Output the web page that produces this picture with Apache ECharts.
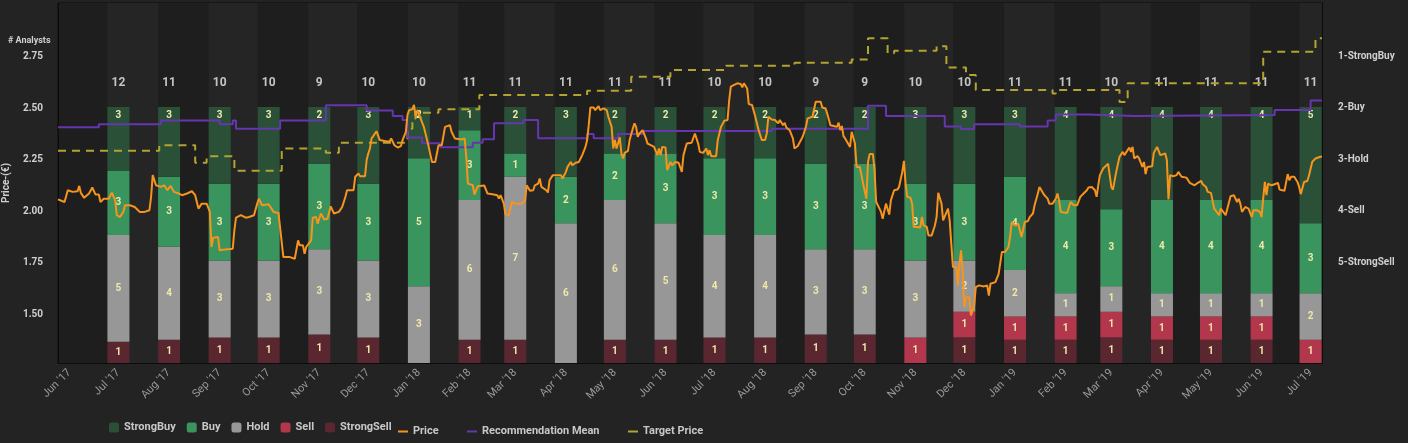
<!DOCTYPE html>
<html lang="en">
  <head>
    <meta charset="UTF-8" />
    <title>Analyst Recommendations</title>
    <style>
      * {
        padding: 0;
        margin: 0;
      }
      html,
      body {
        width: 100%;
        height: 100%;
        background: #232323;
      }
      #main {
        width: 1408px;
        height: 443px;
      }
    </style>
  </head>
  <body>
    <div id="main"></div>
    <script src="https://cdn.jsdelivr.net/npm/echarts@6/dist/echarts.min.js"></script>
    <script>
      // month ticks on the x axis
      var tickMonths = ['2017-06-01', '2017-07-01', '2017-08-01', '2017-09-01', '2017-10-01', '2017-11-01', '2017-12-01',
        '2018-01-01', '2018-02-01', '2018-03-01', '2018-04-01', '2018-05-01', '2018-06-01', '2018-07-01', '2018-08-01',
        '2018-09-01', '2018-10-01', '2018-11-01', '2018-12-01', '2019-01-01', '2019-02-01', '2019-03-01', '2019-04-01',
        '2019-05-01', '2019-06-01', '2019-07-01'];
      var tickLabels = ["Jun '17", "Jul '17", "Aug '17", "Sep '17", "Oct '17", "Nov '17", "Dec '17", "Jan '18", "Feb '18",
        "Mar '18", "Apr '18", "May '18", "Jun '18", "Jul '18", "Aug '18", "Sep '18", "Oct '18", "Nov '18", "Dec '18",
        "Jan '19", "Feb '19", "Mar '19", "Apr '19", "May '19", "Jun '19", "Jul '19"];
      var barMonths = tickMonths.slice(1);

      // analyst counts per month
      var strongBuy = [3, 3, 3, 3, 2, 3, 2, 1, 2, 3, 2, 2, 2, 2, 2, 2, 3, 3, 3, 4, 4, 4, 4, 4, 5];
      var buy = [3, 3, 3, 3, 3, 3, 5, 3, 1, 2, 2, 3, 3, 3, 3, 3, 3, 3, 4, 4, 3, 4, 4, 4, 3];
      var hold = [5, 4, 3, 3, 3, 3, 3, 6, 7, 6, 6, 5, 4, 4, 3, 3, 3, 2, 2, 1, 1, 1, 1, 1, 2];
      var sell = [0, 0, 0, 0, 0, 0, 0, 0, 0, 0, 0, 0, 0, 0, 0, 0, 1, 1, 1, 1, 1, 1, 1, 1, 1];
      var strongSell = [1, 1, 1, 1, 1, 1, 0, 1, 1, 0, 1, 1, 1, 1, 1, 1, 0, 1, 1, 1, 1, 1, 1, 1, 0];

      // daily series: [days since startDate, value]
      var startDate = '2017-05-25';
      var lastDay = 774;
      var price = [[0,2.058],[4,2.045],[6,2.102],[9,2.094],[12,2.097],[13,2.123],[14,2.089],[16,2.065],[19,2.086],[21,2.115],
        [23,2.081],[25,2.081],[26,2.045],[28,2.061],[31,2.061],[33,2.090],[35,2.053],[36,1.981],[38,1.972],[40,1.997],[41,2.029],
        [44,2.029],[47,2.021],[50,1.997],[53,1.997],[56,2.005],[57,2.070],[58,2.175],[60,2.126],[63,2.118],[65,2.126],[67,2.102],
        [69,2.123],[71,2.094],[74,2.086],[76,2.078],[79,2.086],[82,2.097],[84,2.078],[86,2.013],[88,2.037],[91,2.037],[93,1.997],
        [94,1.827],[95,1.872],[98,1.875],[99,1.811],[101,1.814],[107,1.819],[108,1.908],[109,1.969],[112,1.981],[115,1.969],
        [117,1.972],[120,1.981],[122,2.037],[123,2.061],[125,2.029],[129,2.034],[132,1.997],[135,1.992],[138,1.778],[139,1.782],
        [142,1.778],[145,1.770],[147,1.859],[148,1.835],[150,1.835],[151,1.794],[152,1.827],[155,1.859],[156,1.969],[158,1.972],
        [159,1.940],[161,1.989],[163,1.960],[165,1.964],[167,2.024],[169,1.989],[172,1.997],[174,2.021],[176,2.070],[177,2.102],
        [181,2.102],[182,2.167],[184,2.183],[185,2.170],[188,2.170],[189,2.248],[190,2.280],[191,2.304],[192,2.353],[193,2.364],
        [194,2.364],[195,2.388],[197,2.345],[200,2.340],[203,2.337],[204,2.353],[206,2.320],[208,2.309],[210,2.316],[211,2.345],
        [213,2.385],[214,2.466],[215,2.490],[217,2.494],[218,2.515],[219,2.458],[220,2.490],[222,2.450],[224,2.409],[226,2.345],
        [227,2.312],[229,2.239],[231,2.239],[233,2.320],[234,2.328],[235,2.320],[237,2.409],[238,2.414],[240,2.417],[241,2.385],
        [243,2.353],[244,2.345],[247,2.348],[249,2.353],[250,2.264],[251,2.134],[252,2.126],[254,2.126],[255,2.081],[257,2.121],
        [261,2.125],[263,2.086],[264,2.094],[266,2.083],[269,2.078],[270,2.061],[271,2.078],[273,2.037],[274,1.984],[276,1.981],
        [277,1.984],[278,2.045],[280,2.037],[284,2.037],[286,2.053],[287,2.126],[289,2.099],[291,2.102],[292,2.126],[294,2.134],
        [295,2.159],[296,2.118],[297,2.118],[299,2.102],[300,2.091],[301,2.150],[303,2.175],[308,2.175],[309,2.159],[311,2.191],
        [312,2.215],[314,2.239],[315,2.223],[317,2.235],[319,2.239],[320,2.256],[321,2.272],[323,2.312],[324,2.345],[325,2.417],
        [326,2.503],[328,2.503],[329,2.490],[331,2.510],[332,2.490],[334,2.498],[336,2.490],[337,2.458],[339,2.409],[340,2.304],
        [341,2.345],[342,2.304],[344,2.358],[345,2.280],[346,2.256],[347,2.283],[349,2.293],[350,2.345],[352,2.401],[353,2.426],
        [354,2.409],[355,2.361],[356,2.377],[358,2.393],[360,2.353],[361,2.328],[363,2.320],[365,2.312],[367,2.272],[368,2.304],
        [369,2.272],[370,2.312],[372,2.309],[373,2.199],[375,2.239],[376,2.223],[378,2.239],[380,2.235],[382,2.191],[383,2.272],
        [385,2.328],[388,2.332],[390,2.377],[392,2.328],[393,2.288],[395,2.283],[397,2.304],[398,2.272],[399,2.296],[400,2.267],
        [403,2.267],[404,2.345],[406,2.409],[408,2.439],[410,2.442],[411,2.539],[412,2.604],[414,2.612],[416,2.620],[418,2.617],
        [419,2.600],[420,2.620],[422,2.595],[423,2.519],[425,2.515],[427,2.458],[429,2.393],[431,2.345],[433,2.345],[434,2.377],
        [435,2.458],[437,2.445],[439,2.442],[441,2.426],[442,2.442],[444,2.417],[445,2.429],[446,2.406],[448,2.393],[450,2.353],
        [451,2.304],[453,2.316],[454,2.316],[456,2.361],[458,2.409],[459,2.450],[462,2.458],[464,2.531],[465,2.523],[467,2.531],
        [468,2.503],[470,2.498],[471,2.474],[473,2.417],[475,2.413],[477,2.409],[478,2.429],[479,2.393],[480,2.413],[481,2.364],
        [482,2.353],[483,2.361],[485,2.312],[486,2.385],[487,2.393],[488,2.328],[489,2.215],[491,2.215],[493,2.134],[494,2.126],
        [495,2.061],[496,2.239],[497,2.277],[499,2.277],[500,2.199],[501,2.045],[502,2.029],[504,1.997],[505,1.964],[506,1.969],
        [507,2.037],[509,1.984],[510,2.053],[512,2.102],[514,2.105],[515,2.118],[517,2.191],[518,2.244],[519,2.134],[520,2.070],
        [522,2.066],[523,2.037],[524,1.924],[526,1.924],[528,1.921],[529,1.972],[530,1.932],[532,1.924],[533,1.883],[535,1.883],
        [537,1.932],[538,1.972],[539,2.089],[541,2.037],[542,1.956],[543,1.956],[545,2.013],[546,1.956],[547,1.843],[548,1.730],
        [550,1.730],[551,1.641],[552,1.746],[553,1.811],[554,1.697],[555,1.536],[556,1.584],[558,1.584],[559,1.495],[561,1.544],
        [562,1.633],[564,1.641],[567,1.636],[569,1.641],[570,1.592],[571,1.649],[574,1.657],[576,1.697],[578,1.803],[580,1.803],
        [582,1.827],[583,1.875],[584,1.948],[586,1.932],[588,1.940],[590,1.875],[592,1.948],[594,1.953],[595,1.972],[597,1.989],
        [598,2.029],[600,2.086],[601,2.118],[602,2.115],[604,2.078],[606,2.061],[607,2.037],[609,2.037],[611,2.061],[612,2.086],
        [613,2.053],[614,1.997],[618,1.992],[620,2.045],[622,2.029],[624,2.029],[626,2.070],[627,2.061],[628,2.086],[630,2.102],
        [631,2.115],[633,2.118],[635,2.102],[636,2.070],[637,2.126],[638,2.175],[639,2.175],[640,2.207],[641,2.207],[643,2.231],
        [645,2.118],[646,2.105],[647,2.105],[648,2.191],[650,2.264],[652,2.288],[653,2.272],[654,2.272],[656,2.309],[657,2.288],
        [658,2.312],[659,2.256],[661,2.267],[662,2.256],[664,2.215],[665,2.239],[666,2.180],[667,2.215],[670,2.218],[671,2.283],
        [673,2.312],[674,2.304],[675,2.272],[678,2.280],[679,2.248],[680,2.057],[681,2.175],[683,2.170],[685,2.175],[686,2.191],
        [688,2.167],[691,2.163],[693,2.138],[694,2.131],[696,2.126],[698,2.138],[700,2.147],[701,2.131],[703,2.118],[704,2.094],
        [706,2.089],[708,2.013],[709,2.005],[711,1.981],[712,2.013],[713,2.021],[715,1.981],[716,1.989],[718,2.073],[720,2.078],
        [722,2.045],[723,2.061],[724,2.037],[725,1.997],[727,2.021],[729,2.013],[730,2.005],[731,1.972],[732,2.005],[734,2.005],
        [736,1.997],[737,1.972],[738,2.061],[739,2.142],[740,2.078],[741,2.134],[743,2.126],[744,2.134],[745,2.131],[747,2.138],
        [748,2.105],[751,2.099],[753,2.180],[754,2.150],[755,2.167],[757,2.167],[759,2.142],[760,2.118],[761,2.083],[763,2.142],
        [765,2.147],[766,2.172],[767,2.167],[768,2.239],[770,2.256],[771,2.248],[773,2.264],[774,2.264]];
      var recMean = [[0,2.374],[25,2.316],[63,2.245],[99,2.316],[107,2.245],[109,2.401],[136,2.245],[164,1.946],[189,2.05],
        [205,2.154],[211,2.232],[214,2.575],[223,2.685],[234,2.763],[254,2.673],[260,2.607],[267,2.296],[285,2.232],[294,2.588],
        [324,2.504],[328,2.588],[343,2.504],[358,2.446],[437,2.401],[496,1.959],[507,2.154],[543,2.362],[553,2.407],[561,2.316],
        [589,2.362],[606,2.245],[611,2.128],[631,2.154],[659,2.134],[745,2.037],[767,1.856],[774,1.856]];
      var targetPrice = [[0,2.293],[62,2.320],[84,2.235],[91,2.267],[108,2.196],[137,2.304],[164,2.283],[172,2.332],[214,2.40],
        [217,2.45],[219,2.477],[233,2.494],[258,2.563],[324,2.584],[351,2.652],[375,2.685],[409,2.705],[451,2.72],[486,2.735],
        [496,2.838],[508,2.765],[512,2.778],[538,2.80],[544,2.696],[556,2.66],[562,2.587],[609,2.57],[611,2.587],[650,2.53],
        [655,2.62],[738,2.773],[770,2.838],[774,2.838]];

      // axis ticks
      var priceTicks = [1.5, 1.75, 2, 2.25, 2.5, 2.75];
      var recTicks = [1, 2, 3, 4, 5];
      var recLabels = ['1-StrongBuy', '2-Buy', '3-Hold', '4-Sell', '5-StrongSell'];

      var FONT = 'Roboto, "Liberation Sans", Arial, sans-serif';
      var DAY = 86400000;
      var BAR_W = 22;
      var LEGEND_TOP = 417;

      function ts(s) {
        return new Date(s + 'T00:00:00').getTime();
      }
      var t0 = ts(startDate);
      function atDay(d) {
        return t0 + d * DAY;
      }
      var tickTs = tickMonths.map(ts);
      var totals = barMonths.map(function(m, i) {
        return strongBuy[i] + buy[i] + hold[i] + sell[i] + strongSell[i];
      });

      // stack order from the bottom up
      var groups = [
        { name: 'StrongSell', counts: strongSell, color: '#5a2731' },
        { name: 'Sell', counts: sell, color: '#b3374c' },
        { name: 'Hold', counts: hold, color: '#979797' },
        { name: 'Buy', counts: buy, color: '#3a945d' },
        { name: 'StrongBuy', counts: strongBuy, color: '#2a5038', atTop: true },
      ];

      // each item: [date, base %, top %, count]
      function stackedData(level) {
        return barMonths.map(function(m, i) {
          var below = 0;
          for (var k = 0; k < level; k++) below += groups[k].counts[i];
          var c = groups[level].counts[i];
          return [ts(m), (below / totals[i]) * 100, ((below + c) / totals[i]) * 100, c];
        });
      }

      function barSeries(level) {
        var g = groups[level];
        return {
          name: g.name,
          type: 'custom',
          yAxisIndex: 0,
          z: 2,
          itemStyle: { color: g.color },
          encode: { x: 0, y: [1, 2] },
          data: stackedData(level),
          renderItem: function(params, api) {
            var c = api.value(3);
            if (!c) return null;
            var p0 = api.coord([api.value(0), api.value(1)]);
            var p1 = api.coord([api.value(0), api.value(2)]);
            var labelY = g.atTop ? p1[1] + 9 : (p0[1] + p1[1]) / 2;
            return {
              type: 'group',
              children: [
                {
                  type: 'rect',
                  shape: { x: p0[0] - BAR_W / 2, y: p1[1], width: BAR_W, height: p0[1] - p1[1] },
                  style: { fill: g.color },
                },
                {
                  type: 'text',
                  style: {
                    x: p0[0],
                    y: labelY,
                    text: String(c),
                    fill: '#eee8aa',
                    font: 'bold 10px ' + FONT,
                    align: 'center',
                    verticalAlign: 'middle',
                  },
                },
              ],
            };
          },
        };
      }

      function lineLegend(name, left) {
        return {
          data: [{ name: name, icon: 'rect' }],
          left: left,
          top: LEGEND_TOP + 4,
          itemWidth: 10,
          itemHeight: 2,
          textStyle: { color: '#c8c8c8', fontSize: 11, fontWeight: 'bold', fontFamily: FONT },
        };
      }

      // alternating month bands behind the bars
      var bandData = tickTs.map(function(t, i) {
        var end = i + 1 < tickTs.length ? tickTs[i + 1] : atDay(lastDay + 30);
        return [t, end, i % 2];
      });

      var myChart = echarts.init(document.getElementById('main'));
      var option = {
        backgroundColor: '#232323',
        animation: false,
        textStyle: { fontFamily: FONT },
        title: {
          text: '# Analysts',
          left: 3,
          top: 31,
          textStyle: { color: '#cfcfcf', fontSize: 9, fontWeight: 'bold', fontFamily: FONT },
        },
        grid: {
          left: 58,
          right: 86,
          top: 3,
          bottom: 80,
          containLabel: false,
          outerBoundsMode: 'none',
          show: true,
          borderColor: '#0c0c0c',
          borderWidth: 1,
        },
        legend: [
          {
            data: ['StrongBuy', 'Buy', 'Hold', 'Sell', 'StrongSell'],
            left: 104,
            top: LEGEND_TOP,
            itemWidth: 10,
            itemHeight: 10,
            itemGap: 11,
            textStyle: { color: '#c8c8c8', fontSize: 11, fontWeight: 'bold', fontFamily: FONT },
          },
          lineLegend('Price', 393),
          lineLegend('Recommendation Mean', 462),
          lineLegend('Target Price', 623),
        ],
        xAxis: {
          // timestamps on a numeric axis so month ticks can be placed exactly
          type: 'value',
          min: t0,
          max: atDay(lastDay),
          axisLine: { lineStyle: { color: '#0c0c0c' } },
          axisTick: { show: false },
          splitLine: { show: false },
          axisLabel: {
            customValues: tickTs,
            rotate: 45,
            margin: 8,
            color: '#9a9a9a',
            fontSize: 11,
            fontFamily: FONT,
            formatter: function(v) {
              var i = tickTs.indexOf(v);
              return i >= 0 ? tickLabels[i] : '';
            },
          },
        },
        yAxis: [
          {
            // share of analysts, 100% = bar top
            type: 'value',
            min: 0,
            max: 140.6,
            show: false,
            splitLine: { show: false },
          },
          {
            type: 'value',
            position: 'left',
            min: 1.265,
            max: 3.009,
            name: 'Price-(€)',
            nameLocation: 'middle',
            nameRotate: 90,
            nameGap: 41,
            nameTextStyle: { color: '#cfcfcf', fontSize: 10, fontWeight: 'bold', fontFamily: FONT },
            axisLine: { show: true, lineStyle: { color: '#0c0c0c' } },
            axisTick: { show: false },
            splitLine: { show: false },
            axisLabel: {
              customValues: priceTicks,
              margin: 15,
              color: '#d0d0d0',
              fontSize: 10,
              fontWeight: 'bold',
              fontFamily: FONT,
              formatter: function(v) {
                return v.toFixed(2);
              },
            },
          },
          {
            type: 'value',
            position: 'right',
            inverse: true,
            min: -0.039,
            max: 6.953,
            axisLine: { show: true, lineStyle: { color: '#0c0c0c' } },
            axisTick: { show: false },
            splitLine: { show: false },
            axisLabel: {
              customValues: recTicks,
              margin: 16,
              color: '#d0d0d0',
              fontSize: 10,
              fontWeight: 'bold',
              fontFamily: FONT,
              formatter: function(v) {
                var i = recTicks.indexOf(v);
                return i >= 0 ? recLabels[i] : '';
              },
            },
          },
        ],
        series: [
          {
            name: 'bands',
            type: 'custom',
            yAxisIndex: 0,
            silent: true,
            z: 0,
            data: bandData,
            renderItem: function(params, api) {
              var cs = params.coordSys;
              var x0 = api.coord([api.value(0), 0])[0] - BAR_W / 2;
              var x1 = api.coord([api.value(1), 0])[0] - BAR_W / 2;
              var rect = echarts.graphic.clipRectByRect(
                { x: x0, y: cs.y, width: x1 - x0, height: cs.height },
                { x: cs.x, y: cs.y, width: cs.width, height: cs.height }
              );
              return (
                rect && {
                  type: 'rect',
                  shape: rect,
                  style: { fill: api.value(2) ? '#252525' : '#1e1e1e' },
                }
              );
            },
          },
          barSeries(0),
          barSeries(1),
          barSeries(2),
          barSeries(3),
          barSeries(4),
          {
            // analyst total above each bar
            name: 'Total',
            type: 'custom',
            yAxisIndex: 0,
            silent: true,
            z: 2,
            encode: { x: 0, y: 1 },
            data: barMonths.map(function(m, i) {
              return [ts(m), 100, totals[i]];
            }),
            renderItem: function(params, api) {
              var p = api.coord([api.value(0), api.value(1)]);
              return {
                type: 'text',
                style: {
                  x: p[0],
                  y: p[1] - 24,
                  text: String(api.value(2)),
                  fill: '#c4c4c4',
                  font: 'bold 12px ' + FONT,
                  align: 'center',
                  verticalAlign: 'middle',
                },
              };
            },
          },
          {
            name: 'Target Price',
            type: 'line',
            yAxisIndex: 1,
            step: 'end',
            symbol: 'none',
            z: 3,
            itemStyle: { color: '#b3a332' },
            lineStyle: { color: '#b3a332', width: 2, type: [8, 6] },
            data: targetPrice.map(function(p) {
              return [atDay(p[0]), p[1]];
            }),
          },
          {
            name: 'Recommendation Mean',
            type: 'line',
            yAxisIndex: 2,
            step: 'end',
            symbol: 'none',
            z: 4,
            itemStyle: { color: '#6636b0' },
            lineStyle: { color: '#6636b0', width: 2 },
            data: recMean.map(function(p) {
              return [atDay(p[0]), p[1]];
            }),
          },
          {
            name: 'Price',
            type: 'line',
            yAxisIndex: 1,
            symbol: 'none',
            z: 5,
            itemStyle: { color: '#f7941d' },
            lineStyle: { color: '#f7941d', width: 2 },
            data: price.map(function(p) {
              return [atDay(p[0]), p[1]];
            }),
          },
        ],
      };
      myChart.setOption(option);
    </script>
  </body>
</html>
